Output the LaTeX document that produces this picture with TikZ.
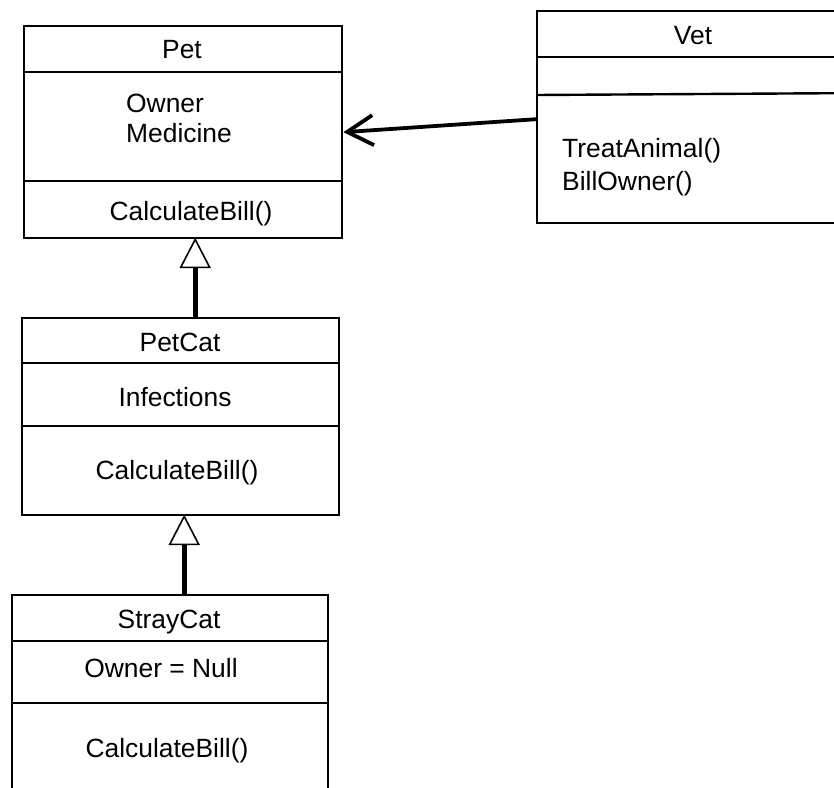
\documentclass[tikz,border=0pt]{standalone}
\usepackage{fontspec}
\setmainfont{Liberation Sans}
\usetikzlibrary{arrows.meta}
\begin{document}
\begin{tikzpicture}[x=1pt,y=-1pt,
  box/.style={draw, line width=2.4pt, rectangle, inner sep=0pt, anchor=north west},
  div/.style={line width=2.4pt},
  txt/.style={font=\fontsize{26.4}{30}\selectfont, inner sep=0pt},
  shaft/.style={line width=4.8pt},
  tri/.style={draw, fill=white, line width=1.6pt, line join=miter},
  assoc/.style={line width=3.8pt, -{Straight Barb[length=26pt,width=30pt]}}]
\useasboundingbox (0,0) rectangle (834,787);
\clip (0,0) rectangle (834,787);
% boxes
\node[box, minimum width=318pt, minimum height=212pt] (pet) at (23,25) {};
\node[box, minimum width=317pt, minimum height=197pt] (petcat) at (21,317) {};
\node[box, minimum width=316pt, minimum height=230pt] (straycat) at (11,594) {};
\node[box, minimum width=330pt, minimum height=212pt] (vet) at (536,10) {};
% dividers
\draw[div] (pet.west |- 0,72) -- (pet.east |- 0,72);
\draw[div] (pet.west |- 0,181) -- (pet.east |- 0,181);
\draw[div] (petcat.west |- 0,363) -- (petcat.east |- 0,363);
\draw[div] (petcat.west |- 0,426) -- (petcat.east |- 0,426);
\draw[div] (straycat.west |- 0,641) -- (straycat.east |- 0,641);
\draw[div] (straycat.west |- 0,703) -- (straycat.east |- 0,703);
\draw[div] (vet.west |- 0,57) -- (vet.east |- 0,57);
\draw[div] (vet.west |- 0,95) -- (vet.east |- 0,93);
% texts
\node[txt, anchor=base] (tpet) at (182,58) {Pet};
\node[txt, anchor=base west] (towner) at (126,112) {Owner};
\node[txt, anchor=base west] (tmed) at (126,142) {Medicine};
\node[txt, anchor=base] (tcb1) at (191,220) {CalculateBill()};
\node[txt, anchor=base] (tpetcat) at (180,351) {PetCat};
\node[txt, anchor=base] (tinf) at (175,406) {Infections};
\node[txt, anchor=base] (tcb2) at (177,479) {CalculateBill()};
\node[txt, anchor=base] (tstray) at (169,628) {StrayCat};
\node[txt, anchor=base] (tnull) at (161,677) {Owner = Null};
\node[txt, anchor=base] (tcb3) at (167,757) {CalculateBill()};
\node[txt, anchor=base] (tvet) at (693,44) {Vet};
\node[txt, anchor=base west] (ttreat) at (562,157) {TreatAnimal()};
\node[txt, anchor=base west] (tbill) at (562,190) {BillOwner()};
% generalization PetCat -> Pet
\coordinate (g1) at ([xshift=12pt]pet.south);
\draw[shaft] (g1 |- petcat.north) -- ([yshift=-28pt]g1);
\draw[tri] (g1) -- ++(-14.5,28) -- ++(29,0) -- cycle;
% generalization StrayCat -> PetCat
\coordinate (g2) at ([xshift=3.5pt]petcat.south);
\draw[shaft] (g2 |- straycat.north) -- ([yshift=-28pt]g2);
\draw[tri] (g2) -- ++(-14.5,28) -- ++(29,0) -- cycle;
% association Vet -> Pet
\draw[assoc] ([yshift=-2pt]vet.west) -- (pet.east);
\end{tikzpicture}
\end{document}
